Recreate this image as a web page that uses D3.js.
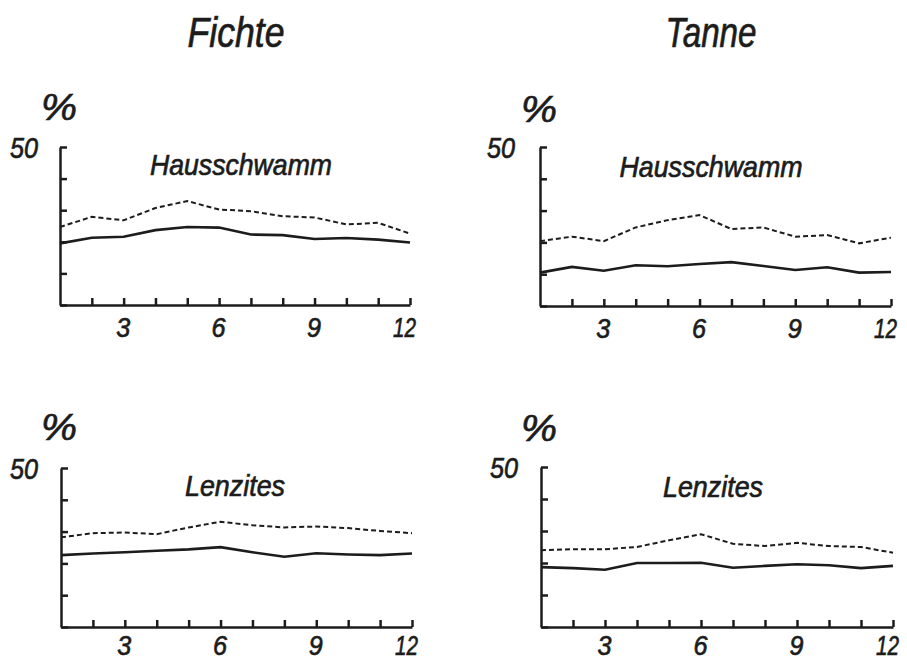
<!DOCTYPE html>
<html>
<head>
<meta charset="utf-8">
<script src="https://cdn.jsdelivr.net/npm/d3@7"></script>
<style>
  html, body { margin: 0; padding: 0; background: #ffffff; }
  svg text { font-family: "Liberation Sans", Arial, sans-serif; font-style: italic; fill: #1c1c1c; stroke: #1c1c1c; stroke-width: 0.7px; }
</style>
</head>
<body>
<svg id="chart" width="907" height="660"></svg>
<script>
// ---- data ----
const months = [1, 2, 3, 4, 5, 6, 7, 8, 9, 10, 11, 12];
const columnTitles = ["Fichte", "Tanne"];
const rowTitles = ["Hausschwamm", "Lenzites"];
const yTickValues = [0, 10, 20, 30, 40, 50];
const yLabelValues = [50];
const xTickValues = [2, 3, 4, 5, 6, 7, 8, 9, 10, 11, 12];
const xLabelValues = [3, 6, 9, 12];
const unitLabel = "%";

// Fichte – Hausschwamm
const fichteHausSolid  = [19.5, 21.3, 21.6, 23.7, 24.7, 24.5, 22.3, 22.1, 20.9, 21.2, 20.7, 19.8];
const fichteHausDashed = [24.7, 27.9, 26.8, 30.7, 32.9, 30.2, 29.7, 28.1, 27.7, 25.5, 26.0, 22.6];
// Tanne – Hausschwamm
const tanneHausSolid   = [10.5, 12.3, 11.1, 12.8, 12.5, 13.2, 13.8, 12.6, 11.3, 12.2, 10.5, 10.7];
const tanneHausDashed  = [20.4, 21.8, 20.4, 24.7, 27.0, 28.6, 24.2, 24.7, 21.8, 22.3, 19.7, 21.5];
// Fichte – Lenzites
const fichteLenzSolid  = [22.6, 23.1, 23.5, 24.0, 24.4, 25.1, 23.5, 22.1, 23.2, 22.8, 22.6, 23.1];
const fichteLenzDashed = [28.2, 29.5, 29.7, 29.2, 31.3, 33.1, 32.0, 31.3, 31.6, 31.1, 30.2, 29.5];
// Tanne – Lenzites
const tanneLenzSolid   = [18.7, 18.4, 17.9, 20.0, 20.0, 20.1, 18.5, 19.1, 19.6, 19.3, 18.4, 19.1];
const tanneLenzDashed  = [24.0, 24.3, 24.3, 25.0, 27.1, 29.0, 26.0, 25.3, 26.3, 25.3, 25.0, 23.2];

// ---- layout ----
const svg = d3.select("#chart");
const ink = "#1c1c1c";

const panels = [
  { x0: 60,  x1: 410, yTop: 147, yBot: 305, solid: fichteHausSolid, dashed: fichteHausDashed, title: rowTitles[0], tx: 241, ty: 175, tw: 182, px: 59,  py: 120, n50dx: 22, xpad: 12 },
  { x0: 540, x1: 891, yTop: 147, yBot: 306, solid: tanneHausSolid,  dashed: tanneHausDashed,  title: rowTitles[0], tx: 711, ty: 177, tw: 183, px: 539, py: 122, n50dx: 25, xpad: 12 },
  { x0: 61,  x1: 412, yTop: 468, yBot: 627, solid: fichteLenzSolid, dashed: fichteLenzDashed, title: rowTitles[1], tx: 235, ty: 496, tw: 100, px: 59,  py: 440, n50dx: 23, xpad: 8 },
  { x0: 541, x1: 893, yTop: 467, yBot: 627, solid: tanneLenzSolid,  dashed: tanneLenzDashed,  title: rowTitles[1], tx: 713, ty: 497, tw: 100, px: 539, py: 441, n50dx: 23, xpad: 8 }
];

// column titles
svg.append("text").attr("x", 236).attr("y", 47).attr("text-anchor", "middle")
  .style("font-size", "42px").attr("textLength", 97).attr("lengthAdjust", "spacingAndGlyphs")
  .text(columnTitles[0]);
svg.append("text").attr("x", 711).attr("y", 47).attr("text-anchor", "middle")
  .style("font-size", "42px").attr("textLength", 91).attr("lengthAdjust", "spacingAndGlyphs")
  .text(columnTitles[1]);

panels.forEach(p => {
  const x = d3.scaleLinear().domain([1, 12]).range([p.x0, p.x1]);
  const y = d3.scaleLinear().domain([0, 50]).range([p.yBot, p.yTop]);
  const g = svg.append("g");

  // unit label
  g.append("text").attr("x", p.px).attr("y", p.py).attr("text-anchor", "middle")
    .style("font-size", "36px").attr("textLength", 36).attr("lengthAdjust", "spacingAndGlyphs")
    .text(unitLabel);

  // y axis (ticks inward)
  const yAxis = d3.axisLeft(y).tickValues(yTickValues).tickSizeInner(-7).tickSizeOuter(0)
    .tickPadding(p.n50dx).tickFormat(d => yLabelValues.includes(d) ? d : "");
  const ya = g.append("g").attr("transform", `translate(${p.x0},0)`).call(yAxis)
    .attr("font-family", null).attr("font-size", null);
  ya.selectAll("path, line").attr("stroke", ink).attr("stroke-width", 2.5);
  ya.selectAll("text").style("font-size", "30px").attr("fill", ink)
    .attr("dy", "0.36em").attr("textLength", d => yLabelValues.includes(d) ? 28 : null)
    .attr("lengthAdjust", "spacingAndGlyphs");

  // x axis (ticks upward)
  const xAxis = d3.axisBottom(x).tickValues(xTickValues).tickSizeInner(-7).tickSizeOuter(0)
    .tickPadding(p.xpad).tickFormat(d => xLabelValues.includes(d) ? d : "");
  const xa = g.append("g").attr("transform", `translate(0,${p.yBot})`).call(xAxis)
    .attr("font-family", null).attr("font-size", null);
  xa.selectAll("path, line").attr("stroke", ink).attr("stroke-width", 2.5);
  xa.selectAll("text").style("font-size", "28px").attr("fill", ink)
    .attr("textLength", d => xLabelValues.includes(d) ? (d >= 10 ? 23 : 14) : null)
    .attr("dx", d => d >= 10 ? -6 : -1)
    .attr("lengthAdjust", "spacingAndGlyphs");

  // panel title
  g.append("text").attr("x", p.tx).attr("y", p.ty).attr("text-anchor", "middle")
    .style("font-size", "30px").attr("textLength", p.tw).attr("lengthAdjust", "spacingAndGlyphs")
    .text(p.title);

  const line = d3.line().x((d, i) => x(months[i])).y(d => y(d));
  g.append("path").datum(p.dashed).attr("d", line).attr("fill", "none")
    .attr("stroke", ink).attr("stroke-width", 2).attr("stroke-dasharray", "5,3");
  g.append("path").datum(p.solid).attr("d", line).attr("fill", "none")
    .attr("stroke", ink).attr("stroke-width", 2.6);
});
</script>
</body>
</html>
